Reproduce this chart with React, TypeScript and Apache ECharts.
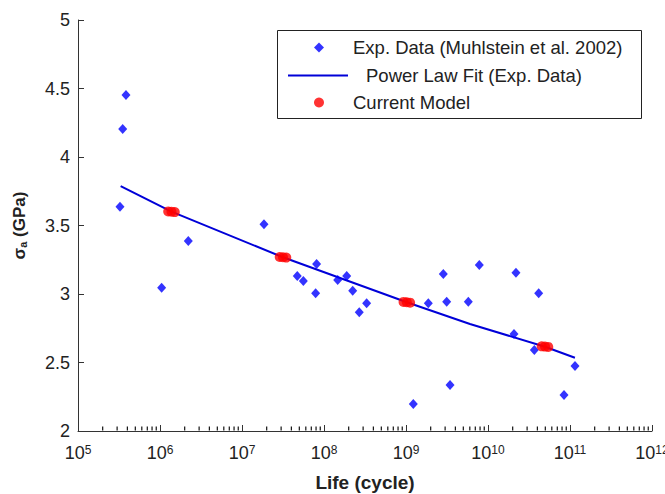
import React, { useEffect, useRef } from "react";
import * as echarts from "echarts";

// Experimental data (Muhlstein et al. 2002): log10(life in cycles), stress amplitude (GPa)
const expLogLife = [5.585, 5.545, 5.512, 6.345, 6.02, 7.268, 7.674, 7.91, 7.748, 7.898, 8.167, 8.277, 8.35, 8.43, 8.52, 9.272, 9.455, 9.496, 9.76, 9.537, 9.089, 9.894, 10.341, 10.618, 10.317, 10.565, 11.061, 10.927];
const expStress = [4.453, 4.204, 3.637, 3.387, 3.046, 3.509, 3.131, 3.219, 3.095, 3.005, 3.102, 3.131, 3.024, 2.866, 2.932, 2.932, 3.146, 2.944, 2.944, 2.336, 2.197, 3.212, 3.156, 3.005, 2.708, 2.591, 2.474, 2.263];

// Power law fit
const fitLogLife = [5.52, 6.14, 7.5, 9.01, 9.78, 10.695, 11.06];
const fitStress = [3.788, 3.601, 3.268, 2.94, 2.781, 2.615, 2.535];

// Current model
const modelLogLife = [6.1, 6.14, 6.18, 7.46, 7.5, 7.54, 8.97, 9.01, 9.05, 10.655, 10.695, 10.735];
const modelStress = [3.603, 3.601, 3.598, 3.27, 3.268, 3.266, 2.942, 2.94, 2.937, 2.618, 2.616, 2.614];

// Axis ticks
const xDecades = [5, 6, 7, 8, 9, 10, 11, 12];
const yTicks = [2, 2.5, 3, 3.5, 4, 4.5, 5];

const NAME_EXP = "Exp. Data (Muhlstein et al. 2002)";
const NAME_FIT = "Power Law Fit (Exp. Data)";
const NAME_MODEL = "Current Model";

const FONT = "Liberation Sans, Arial, Helvetica, sans-serif";
const TXT = "#222";
const AX = "#333";

export default function App() {
  const ref = useRef<HTMLDivElement>(null);
  useEffect(() => {
    if (!ref.current) return;
    const chart = echarts.init(ref.current, undefined, { renderer: "svg" });
    const minorTicks: number[] = [];
    for (let i = 0; i < xDecades.length - 1; i++) {
      for (let k = 2; k <= 9; k++) minorTicks.push(xDecades[i] + Math.log10(k));
    }
    const textStyle = { fontSize: 18.5, fontFamily: FONT, color: TXT };
    chart.setOption({
      animation: false,
      backgroundColor: "#fff",
      textStyle: { fontFamily: FONT },
      grid: { left: 78, right: 13, top: 20, bottom: 63, containLabel: false, outerBoundsMode: "none" },
      xAxis: {
        type: "value",
        min: xDecades[0],
        max: xDecades[xDecades.length - 1],
        interval: 1,
        position: "bottom",
        name: "Life (cycle)",
        nameLocation: "middle",
        nameGap: 40,
        nameTextStyle: { fontSize: 19, fontWeight: "bold", color: TXT, fontFamily: FONT },
        axisLine: { onZero: false, lineStyle: { color: AX, width: 1 } },
        axisTick: { inside: true, length: 6, lineStyle: { color: AX } },
        splitLine: { show: false },
        axisLabel: {
          margin: 13,
          color: TXT,
          formatter: (v: number) => `{b|10}{s|${v}}`,
          rich: {
            b: { fontSize: 18, fontFamily: FONT, color: TXT, verticalAlign: "bottom" },
            s: { fontSize: 12, fontFamily: FONT, color: TXT, verticalAlign: "top", lineHeight: 12, padding: [0, 0, 12, 0] },
          },
        },
      },
      yAxis: {
        type: "value",
        min: yTicks[0],
        max: yTicks[yTicks.length - 1],
        interval: 0.5,
        name: "{s|σ}{sub|a}{g| (GPa)}",
        nameLocation: "middle",
        nameRotate: 90,
        nameGap: 50,
        nameTextStyle: {
          color: TXT,
          rich: {
            s: { fontSize: 17, fontWeight: "bold", fontFamily: FONT, color: TXT },
            sub: { fontSize: 11, fontWeight: "bold", fontFamily: FONT, color: TXT, verticalAlign: "bottom" },
            g: { fontSize: 17, fontWeight: "bold", fontFamily: FONT, color: TXT },
          },
        },
        axisLine: { show: true, lineStyle: { color: AX, width: 1 } },
        axisTick: { show: true, inside: true, length: 6, lineStyle: { color: AX } },
        splitLine: { show: false },
        axisLabel: { fontSize: 18, color: TXT, fontFamily: FONT, margin: 8, formatter: (v: number) => String(v) },
      },
      legend: [
        {
          data: [{ name: NAME_EXP, icon: "diamond" }],
          left: 314, top: 38, padding: 0, itemWidth: 10, itemHeight: 10, selectedMode: false,
          textStyle: { ...textStyle, padding: [0, 0, 0, 24] },
        },
        {
          data: [{ name: NAME_FIT, icon: "rect" }],
          left: 288, top: 66, padding: 0, itemWidth: 60, itemHeight: 2, selectedMode: false,
          textStyle: { ...textStyle, padding: [0, 0, 0, 13] },
        },
        {
          data: [{ name: NAME_MODEL, icon: "circle" }],
          left: 314, top: 93, padding: 0, itemWidth: 10, itemHeight: 10, selectedMode: false,
          textStyle: { ...textStyle, padding: [0, 0, 0, 24] },
        },
      ],
      graphic: [
        {
          type: "rect",
          left: 277,
          top: 30,
          z: 3,
          shape: { width: 364, height: 88 },
          style: { fill: "#fff", stroke: "#222", lineWidth: 1 },
        },
      ],
      series: [
        {
          name: "minor ticks",
          type: "scatter",
          data: minorTicks.map((x) => [x, yTicks[0]]),
          symbol: "rect",
          symbolSize: [1.2, 4],
          symbolOffset: [0, -2.5],
          itemStyle: { color: "#111", opacity: 1 },
          silent: true,
          clip: false,
          z: 10,
        },
        {
          name: NAME_FIT,
          type: "line",
          data: fitLogLife.map((x, i) => [x, fitStress[i]]),
          symbol: "none",
          lineStyle: { color: "#0000d8", width: 2 },
          itemStyle: { color: "#0000d8" },
          z: 2,
        },
        {
          name: NAME_EXP,
          type: "scatter",
          data: expLogLife.map((x, i) => [x, expStress[i]]),
          symbol: "diamond",
          symbolSize: [9, 10],
          itemStyle: { color: "#0000ff" },
          z: 3,
        },
        {
          name: NAME_MODEL,
          type: "scatter",
          data: modelLogLife.map((x, i) => [x, modelStress[i]]),
          symbol: "circle",
          symbolSize: 10,
          itemStyle: { color: "#ff0000" },
          z: 4,
        },
      ],
    });
    return () => chart.dispose();
  }, []);
  return <div ref={ref} style={{ position: "fixed", left: 0, top: 0, width: 665, height: 494, background: "#fff" }} />;
}
